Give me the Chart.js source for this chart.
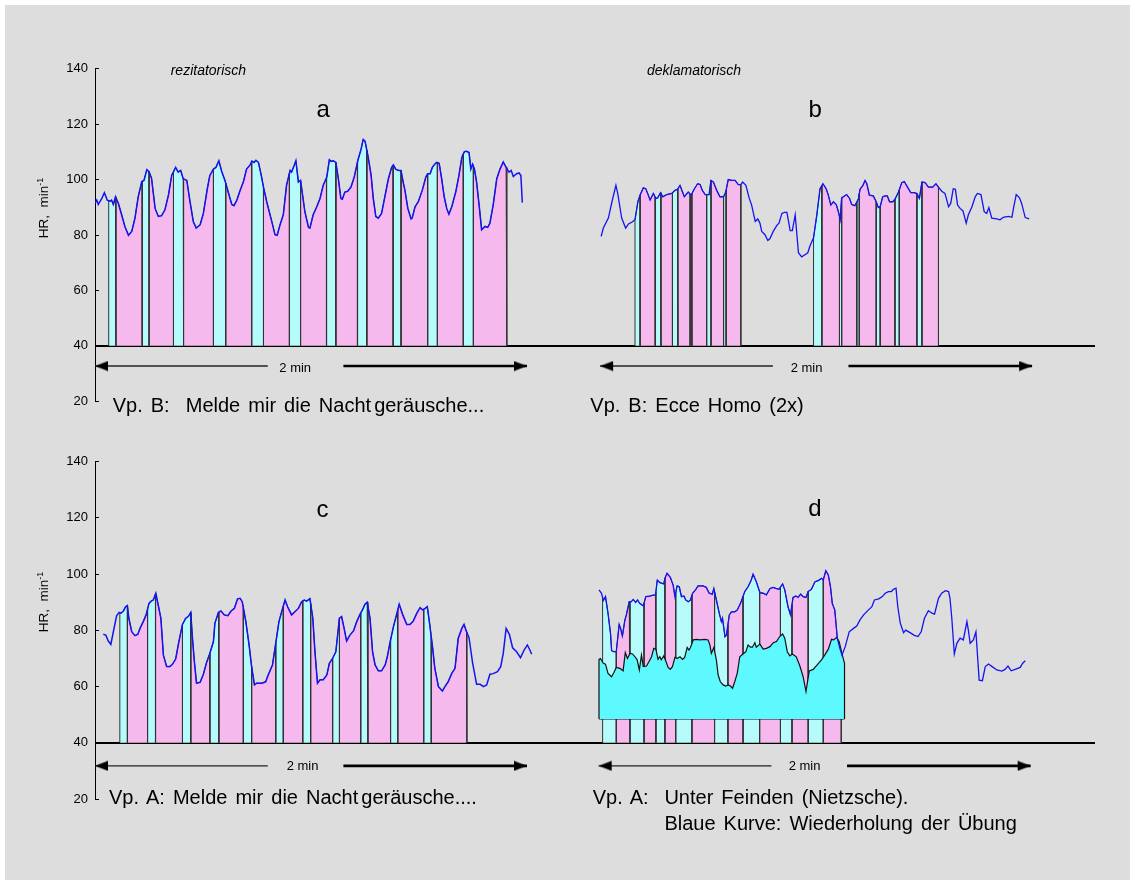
<!DOCTYPE html>
<html><head><meta charset="utf-8">
<script src="https://cdn.jsdelivr.net/npm/chart.js@4/dist/chart.umd.min.js"></script>
<style>
html,body{margin:0;padding:0;background:#fff;}
body{width:1135px;height:886px;position:relative;overflow:hidden;font-family:"Liberation Sans",Arial,Helvetica,sans-serif;}
#frame{position:absolute;left:5px;top:5px;width:1125px;height:875px;background:#dddddd;}
canvas{position:absolute;left:0;}
.t{position:absolute;white-space:nowrap;color:#000;}
</style></head><body>
<div id="frame"></div>
<canvas id="rowTop" width="1135" height="370" style="top:50px"></canvas>
<canvas id="rowBottom" width="1135" height="380" style="top:440px"></canvas>
<div id="labels"></div>
<script>
// ---------------- DATA (time in s from panel start, HR in min^-1) ----------------
const yTicks = [20, 40, 60, 80, 100, 120, 140];
const spanSeconds = 120; // "2 min"

// Panel a: Vp. B, Melde mir die Nachtgeräusche (rezitatorisch)
const panelA_hr = [[0,91.4],[0.5,92.6],[0.9,91.0],[1.9,93.2],[2.6,95.3],[3.4,92.6],[4.2,92.2],[4.6,92.6],[5.1,91.0],[5.7,93.8],[6.5,91.4],[7.4,87.3],[8.3,83.1],[9.3,79.9],[10.2,81.3],[11.1,86.1],[12.0,93.8],[13.0,99.3],[13.6,99.7],[14.4,103.6],[15.0,102.9],[15.7,100.5],[16.7,89.6],[17.6,86.7],[18.5,87.0],[19.4,89.0],[20.4,94.4],[21.3,101.5],[22.4,104.4],[23.1,102.7],[23.8,103.3],[24.5,100.3],[25.5,99.7],[26.4,92.0],[27.3,84.9],[28.1,82.5],[29.2,83.7],[30.1,87.8],[31.2,96.7],[31.9,101.5],[32.9,103.8],[33.6,104.4],[34.4,106.8],[35.2,102.9],[36.1,99.7],[37.0,95.5],[38.0,91.0],[38.6,90.6],[39.4,92.6],[40.3,96.1],[41.2,99.1],[42.1,103.8],[43.1,105.3],[43.6,106.7],[44.2,106.2],[44.7,107.0],[45.4,106.2],[46.1,102.1],[46.8,97.3],[47.7,92.0],[49.1,84.9],[50.0,80.1],[50.6,79.9],[51.4,83.7],[52.3,87.3],[53.2,97.9],[54.2,103.3],[54.6,102.7],[55.3,105.0],[55.8,106.8],[56.5,99.1],[57.1,99.7],[58.3,88.4],[59.3,82.8],[59.7,82.5],[60.6,87.3],[61.6,90.2],[62.5,93.2],[63.4,98.0],[64.4,100.9],[65.1,107.2],[65.6,106.6],[66.2,106.8],[66.9,106.2],[67.6,100.3],[68.3,93.2],[68.7,92.9],[69.4,95.5],[70.2,95.8],[71.1,97.3],[72.0,100.9],[73.0,106.8],[73.9,110.9],[74.5,114.5],[75.0,113.9],[75.9,108.0],[76.7,101.5],[77.3,93.2],[78.0,86.7],[78.7,86.1],[79.6,87.8],[80.6,94.4],[81.5,100.3],[82.4,104.4],[82.9,105.3],[83.5,103.8],[84.3,103.3],[85.0,103.3],[85.6,99.1],[86.1,96.1],[86.9,89.6],[87.8,85.8],[88.1,86.1],[88.9,90.2],[89.8,92.0],[90.9,96.1],[91.9,100.9],[92.4,102.1],[93.1,102.1],[93.7,104.4],[94.4,105.6],[94.9,106.2],[95.6,105.9],[96.3,100.3],[97.0,93.8],[97.7,89.6],[98.3,87.5],[99.1,90.2],[100.2,95.5],[101.1,101.5],[101.9,108.0],[102.6,110.1],[103.2,110.2],[103.9,109.8],[104.4,103.8],[104.9,105.6],[105.4,103.8],[106.0,99.1],[106.7,90.8],[107.4,81.9],[108.3,83.1],[109.1,82.8],[109.7,84.3],[110.6,90.8],[111.6,100.3],[112.5,103.8],[113.4,106.4],[114.2,104.4],[115.0,102.7],[115.6,103.3],[116.2,101.1],[117.1,102.1],[117.8,102.4],[118.3,101.5],[118.7,91.7]];
const panelA_phases = [[3.8,5.8,13.1,15.0,21.8,24.6,32.9,36.3,43.5,46.8,54.0,57.1,64.3,66.9,72.9,75.5,82.8,85.0,92.4,95.1,102.3,105.1,114.4]];

// Panel b: Vp. B, Ecce Homo (2x) (deklamatorisch)
const panelB_hr = [[0.3,79.5],[0.9,82.5],[2.3,86.1],[3.3,92.0],[4.4,97.9],[4.9,95.0],[6.0,86.1],[7.1,82.5],[7.9,84.0],[8.8,84.6],[9.7,85.5],[10.5,92.0],[11.1,94.4],[12.0,97.0],[12.7,96.7],[13.4,94.4],[13.9,92.6],[14.8,95.0],[15.5,93.2],[16.0,93.4],[16.8,95.3],[17.4,93.8],[18.5,94.6],[19.9,95.0],[20.8,96.1],[21.5,96.5],[22.2,97.9],[22.9,95.5],[23.4,93.8],[24.5,95.5],[25.3,94.4],[26.2,96.7],[27.1,98.5],[27.8,98.2],[28.4,96.1],[29.2,94.6],[30.3,94.6],[30.8,99.7],[31.5,99.1],[32.4,96.1],[33.3,93.8],[34.3,93.8],[34.9,95.5],[35.6,100.0],[36.6,99.7],[37.5,99.7],[38.4,98.2],[39.1,98.2],[39.6,99.1],[40.5,97.9],[41.4,93.4],[42.1,90.8],[43.1,84.9],[43.8,85.8],[44.4,84.3],[44.9,81.3],[45.8,80.1],[46.6,78.0],[47.2,78.7],[48.1,81.3],[49.1,83.5],[49.7,84.3],[50.5,87.8],[51.2,88.2],[51.9,88.2],[52.8,81.6],[53.4,81.6],[54.2,87.3],[55.1,73.6],[56.0,72.1],[56.8,72.8],[57.7,73.6],[58.3,76.0],[59.3,79.0],[60.2,87.2],[61.1,96.7],[61.9,98.5],[62.8,96.7],[63.4,94.4],[64.1,90.8],[64.8,92.0],[65.6,91.0],[66.2,88.4],[66.7,85.5],[67.1,93.4],[68.5,94.6],[69.3,93.2],[69.9,91.0],[70.8,90.6],[71.8,93.2],[72.2,96.5],[73.0,97.9],[73.6,99.7],[74.1,98.5],[74.8,94.4],[75.9,94.1],[76.7,92.0],[77.3,89.9],[77.8,90.2],[78.5,93.8],[79.2,94.1],[79.8,94.1],[80.4,92.0],[81.3,92.0],[81.9,92.9],[82.9,95.5],[83.8,98.9],[84.5,99.3],[85.4,97.3],[86.3,95.3],[87.2,95.3],[88.0,95.0],[88.7,93.2],[89.4,99.1],[90.3,98.9],[91.2,97.3],[92.4,97.3],[93.3,98.5],[94.0,97.3],[94.9,95.8],[95.8,95.0],[96.8,90.2],[97.4,91.4],[98.1,96.7],[98.7,96.5],[99.3,90.8],[100.0,89.6],[100.8,88.7],[101.7,84.3],[102.3,87.3],[103.3,90.2],[104.2,93.8],[104.8,95.0],[105.8,94.6],[106.7,88.4],[107.4,87.8],[108.0,89.9],[108.8,86.1],[110.2,85.8],[111.1,85.5],[112.0,86.4],[113.4,86.7],[114.4,86.4],[115.0,90.8],[115.6,94.6],[116.5,93.4],[117.1,91.4],[118.1,86.3],[119.2,85.8]];
const panelB_phases = [[9.7,11.1,15.3,16.9,20.1,21.6,25.0,25.5,29.6,30.8,34.3,35.0,39.1],[59.3,61.6,66.5,67.1,71.3,72.0,76.7,77.8,81.9,83.1,88.0,89.4,94.0]];

// Panel c: Vp. A, Melde mir die Nachtgeräusche
const panelC_hr = [[2.3,78.6],[3.0,78.3],[3.7,76.2],[4.4,75.0],[5.1,79.5],[6.0,85.2],[6.7,86.4],[7.2,86.1],[7.9,86.9],[8.5,88.4],[9.0,88.8],[9.4,84.3],[10.2,79.5],[11.1,78.1],[11.9,78.6],[12.5,80.7],[13.4,83.1],[14.2,85.5],[15.0,89.6],[15.6,90.4],[16.2,90.8],[16.9,93.2],[17.6,88.8],[18.3,84.3],[19.0,71.2],[19.9,67.1],[20.8,67.1],[21.5,67.9],[22.4,69.8],[23.3,76.0],[24.3,82.1],[25.2,84.3],[25.9,84.9],[26.6,86.4],[27.0,78.4],[27.6,68.9],[28.2,61.2],[29.2,61.5],[30.1,64.4],[31.0,68.6],[31.9,71.8],[32.9,76.0],[33.3,82.5],[34.3,86.4],[35.0,86.9],[35.9,85.5],[36.9,85.2],[37.8,86.9],[38.7,87.8],[39.6,91.2],[40.3,91.4],[40.9,90.2],[41.9,83.1],[42.8,74.8],[43.5,67.1],[44.3,60.6],[44.9,61.2],[46.3,61.2],[47.4,61.7],[48.1,64.1],[49.3,67.7],[50.2,75.4],[51.1,83.1],[52.0,87.3],[52.8,90.8],[53.5,88.4],[54.6,85.5],[55.6,86.7],[56.5,87.8],[57.4,90.2],[58.1,90.8],[58.8,90.4],[59.7,91.3],[60.5,84.3],[61.1,72.4],[61.8,61.2],[62.5,62.4],[63.4,62.4],[64.4,64.1],[65.1,68.3],[66.0,70.0],[66.9,72.4],[67.9,84.3],[68.5,84.9],[69.2,80.7],[69.9,76.2],[70.8,78.3],[71.8,79.8],[72.7,83.1],[73.6,85.7],[74.3,87.3],[75.0,89.3],[75.6,90.0],[76.4,84.3],[77.1,72.4],[77.8,67.7],[78.7,65.6],[79.6,65.6],[80.6,67.7],[81.2,70.6],[81.9,75.4],[82.9,81.3],[84.0,86.7],[84.5,89.3],[85.5,85.5],[86.6,82.1],[87.5,82.1],[88.4,83.3],[89.4,86.1],[90.3,88.1],[91.0,87.3],[91.7,87.8],[92.3,88.4],[93.0,81.9],[93.8,73.6],[94.4,66.5],[95.4,60.0],[96.5,58.4],[97.2,60.0],[98.1,61.7],[99.1,64.7],[100.0,66.5],[100.9,77.2],[101.9,80.7],[102.5,82.1],[103.2,79.5],[103.9,77.4],[104.9,68.3],[106.0,60.8],[107.0,60.8],[107.9,60.0],[108.8,60.6],[109.7,64.4],[110.6,64.6],[111.8,65.3],[112.7,67.1],[113.4,71.8],[114.2,80.7],[115.1,78.6],[116.0,73.8],[117.1,72.4],[118.2,70.3],[119.2,73.0],[120.1,74.8],[120.8,73.0],[121.3,71.5]];
const panelC_phases = [[6.9,9.0,14.6,16.8,24.3,26.6,31.9,34.4,41.2,43.5,50.2,52.3,57.7,59.9,66.0,67.9,73.8,75.8,82.1,84.1,91.3,93.4,103.3]];

// Panel d: Vp. A, Unter Feinden (Nietzsche); blue = repetition, black/filled = first run
const panelD_hr = [[0.1,94.4],[0.8,93.2],[1.3,90.6],[1.9,92.0],[2.6,86.1],[3.3,78.9],[3.6,72.8],[4.2,72.4],[4.9,72.4],[5.7,82.1],[6.1,80.7],[6.6,78.0],[7.3,83.7],[7.7,85.5],[8.5,90.2],[9.1,90.2],[9.6,91.0],[10.3,89.9],[10.8,90.8],[11.4,89.6],[12.4,88.7],[13.1,92.0],[14.2,92.2],[15.1,92.5],[15.8,92.6],[16.3,97.9],[17.0,97.0],[18.1,96.5],[18.4,98.5],[19.0,100.3],[19.9,98.9],[20.7,96.1],[21.2,92.0],[21.8,95.8],[22.4,95.5],[23.0,92.0],[23.7,92.2],[24.2,90.8],[24.9,90.2],[25.5,90.8],[26.1,93.2],[27.0,94.6],[27.6,95.8],[29.0,95.8],[29.9,95.3],[30.7,93.2],[31.6,92.9],[32.0,94.9],[32.7,90.8],[33.5,86.1],[34.1,83.1],[34.4,84.3],[35.1,77.7],[35.5,78.3],[36.3,85.5],[36.9,86.6],[37.8,86.6],[38.5,87.2],[39.4,89.6],[40.6,93.8],[41.5,95.5],[42.4,97.9],[42.9,100.0],[43.8,97.3],[44.8,93.4],[45.7,93.2],[46.6,92.6],[47.6,94.9],[48.5,95.3],[49.2,94.9],[50.1,94.6],[51.1,96.5],[51.7,94.4],[52.6,88.4],[53.3,85.5],[54.0,91.7],[54.8,92.2],[55.4,91.7],[56.1,92.9],[56.8,92.0],[57.6,91.7],[58.2,93.8],[59.1,94.6],[60.1,97.3],[61.0,97.7],[61.9,98.5],[62.4,97.9],[63.1,101.2],[63.8,99.7],[64.4,95.5],[64.9,89.6],[65.6,87.2],[66.3,77.2],[67.0,73.6],[67.6,71.2],[68.5,74.2],[69.6,79.5],[70.8,80.7],[71.7,81.5],[72.6,83.7],[73.6,85.5],[74.9,87.2],[75.9,88.4],[76.6,90.8],[77.8,91.2],[78.8,92.0],[79.6,93.2],[80.5,93.8],[81.3,93.8],[81.9,94.6],[82.6,95.0],[83.1,88.4],[83.8,82.5],[84.7,79.2],[85.3,80.1],[86.5,79.2],[87.7,78.2],[88.7,77.8],[89.6,79.5],[90.5,84.3],[91.6,87.0],[92.6,86.1],[93.3,85.8],[94.4,91.4],[95.3,93.2],[96.3,94.1],[97.2,93.8],[97.6,91.4],[98.1,84.3],[98.8,71.6],[99.5,75.4],[100.4,77.2],[101.3,76.6],[102.3,83.1],[102.7,80.1],[103.2,75.4],[104.1,76.6],[104.8,79.5],[105.7,62.3],[106.6,62.1],[107.4,67.1],[108.3,68.0],[109.3,67.1],[110.6,65.9],[112.0,65.5],[112.9,66.1],[113.7,67.3],[114.6,65.6],[115.7,66.1],[117.1,66.8],[117.8,68.3],[118.5,69.2]];
const panelD_first = [[0.1,69.7],[0.5,70.0],[1.3,68.3],[1.9,68.0],[2.6,64.7],[3.6,63.5],[4.2,64.9],[4.9,66.8],[5.9,66.5],[6.8,65.6],[7.4,72.1],[8.0,70.0],[8.7,71.8],[9.4,71.6],[10.1,70.6],[10.7,69.5],[11.3,65.9],[11.9,71.2],[12.4,67.1],[13.3,67.3],[14.0,68.9],[14.7,70.6],[15.3,73.6],[15.9,73.2],[16.5,69.7],[17.0,70.6],[17.4,69.5],[18.1,70.9],[18.7,68.9],[19.3,66.8],[19.9,66.1],[20.5,67.1],[21.2,70.4],[21.8,70.0],[22.6,70.6],[23.3,69.7],[23.9,70.4],[24.6,73.9],[25.1,73.0],[25.5,73.9],[26.3,76.6],[27.2,76.8],[28.1,76.6],[29.5,76.8],[30.4,76.6],[30.9,74.8],[31.3,71.8],[32.0,73.9],[32.7,69.5],[33.2,64.1],[33.8,61.7],[34.6,60.6],[35.3,60.2],[36.0,60.6],[36.6,60.2],[37.2,59.4],[37.8,61.7],[38.5,64.7],[39.2,70.6],[40.1,71.6],[40.9,72.4],[41.5,74.8],[42.2,74.0],[42.7,74.0],[43.4,75.6],[43.8,74.0],[44.8,75.1],[45.7,73.3],[46.6,73.6],[47.6,74.2],[48.5,75.6],[49.4,76.0],[50.3,77.8],[51.1,78.7],[51.7,77.2],[52.4,72.4],[53.1,70.9],[53.8,71.6],[54.9,70.6],[55.9,67.3],[56.8,63.5],[57.6,58.2],[58.5,65.6],[59.6,66.1],[60.7,67.7],[61.9,69.5],[62.8,71.2],[63.8,73.3],[64.7,76.8],[65.3,76.6],[66.1,77.5],[66.8,76.0],[67.7,71.2],[68.3,68.3]];
const panelD_firstBase = 48.5;
const panelD_phases = [[1.1,4.9,8.7,12.6,15.9,18.4,21.4,25.9,32.2,35.9,40.1,44.7,50.5,53.7,58.2,62.4,67.4]];

// ---------------- LAYOUT / STYLE ----------------
const FONT = '"Liberation Sans", Arial, Helvetica, sans-serif';
const X_MAX = 1000 / 3.6;           // row time axis (s)
const OFF = { a: 0, b: 140.3, c: 0, d: 139.9 };
const C = { pink: '#f6b9ee', cyan: '#b5fbfb', dark: '#5ef9fe', hr: '#1414f0', edge: '#333333' };

function makeHead(dir) {
  const c = document.createElement('canvas'); c.width = 28; c.height = 11;
  const g = c.getContext('2d'); g.fillStyle = '#000'; g.beginPath();
  if (dir < 0) { g.moveTo(14, 5.5); g.lineTo(27, 0.5); g.lineTo(27, 10.5); }
  else { g.moveTo(14, 5.5); g.lineTo(1, 0.5); g.lineTo(1, 10.5); }
  g.closePath(); g.fill(); return c;
}
const HEAD_L = makeHead(-1), HEAD_R = makeHead(1);

function interp(pts, t) {
  if (t <= pts[0][0]) return pts[0][1];
  for (let i = 1; i < pts.length; i++) {
    if (t <= pts[i][0]) { const [t0, v0] = pts[i - 1], [t1, v1] = pts[i]; return v0 + (v1 - v0) * (t - t0) / (t1 - t0); }
  }
  return pts[pts.length - 1][1];
}
function areaData(pts, s, e, base, off) {
  const d = [{ x: off + s, y: base }, { x: off + s, y: interp(pts, s) }];
  for (const [t, v] of pts) if (t > s && t < e) d.push({ x: off + t, y: v });
  d.push({ x: off + e, y: interp(pts, e) }, { x: off + e, y: base });
  return d;
}
function phaseSets(pts, groups, off) {
  const out = [];
  groups.forEach(b => {
    for (let i = 0; i < b.length - 1; i++) {
      out.push({ data: areaData(pts, b[i], b[i + 1], 40, off),
        backgroundColor: i % 2 === 0 ? C.cyan : C.pink, borderColor: C.edge, borderWidth: 1,
        fill: { value: 40 }, pointRadius: 0, order: 10 });
    }
  });
  return out;
}
function curveSet(pts, off, color, width, order) {
  return { data: pts.map(([t, v]) => ({ x: off + t, y: v })), borderColor: color, borderWidth: width,
    fill: false, pointRadius: 0, order };
}
function arrowSets(off, y) {
  return [
    { data: [{ x: off, y }, { x: off + 48, y }], borderColor: '#222', borderWidth: 1.3,
      pointRadius: [6, 0], pointStyle: HEAD_L, fill: false, order: 0 },
    { data: [{ x: off + 69, y }, { x: off + spanSeconds, y }], borderColor: '#000', borderWidth: 2.6,
      pointRadius: [0, 6], pointStyle: HEAD_R, fill: false, order: 0 }
  ];
}

function makeChart(id, padTop, padBottom, datasets) {
  return new Chart(document.getElementById(id), {
    type: 'line',
    data: { datasets },
    options: {
      responsive: false, animation: false, devicePixelRatio: 1, events: [],
      layout: { padding: { top: padTop, bottom: padBottom, left: 0, right: 40 } },
      plugins: { legend: { display: false }, tooltip: { enabled: false } },
      elements: { line: { tension: 0 }, point: { radius: 0 } },
      scales: {
        x: { type: 'linear', min: 0, max: X_MAX, display: false },
        y: {
          type: 'linear', min: yTicks[0], max: yTicks[yTicks.length - 1],
          afterFit: s => { s.width = 95; },
          afterBuildTicks: s => { s.ticks = yTicks.map(v => ({ value: v })); },
          ticks: { color: '#000', font: { family: FONT, size: 13 }, padding: 11 },
          grid: {
            color: c => (c.tick && c.tick.value === 40) ? '#000' : 'rgba(0,0,0,0)',
            lineWidth: c => (c.tick && c.tick.value === 40) ? 2 : 1,
            tickColor: '#000', tickWidth: 1, tickLength: -4, drawTicks: true
          },
          border: { display: true, color: '#000', width: 1 }
        }
      }
    }
  });
}

// Top row (a, b)
const topSets = [
  ...phaseSets(panelA_hr, panelA_phases, OFF.a),
  curveSet(panelA_hr, OFF.a, C.hr, 1.5, 1),
  ...arrowSets(OFF.a, 32.7),
  ...phaseSets(panelB_hr, panelB_phases, OFF.b),
  curveSet(panelB_hr, OFF.b, C.hr, 1.3, 1),
  ...arrowSets(OFF.b, 32.7)
];
makeChart('rowTop', 18.3, 14, topSets);

// Bottom row (c, d)
const dFirst = panelD_first, dT0 = dFirst[0][0], dT1 = dFirst[dFirst.length - 1][0];
const bottomSets = [
  ...phaseSets(panelC_hr, panelC_phases, OFF.c),
  curveSet(panelC_hr, OFF.c, C.hr, 1.5, 1),
  ...arrowSets(OFF.c, 31.8),
  ...phaseSets(panelD_hr, panelD_phases, OFF.d),
  { data: areaData(dFirst, dT0, dT1, panelD_firstBase, OFF.d), backgroundColor: C.dark, borderColor: '#111',
    borderWidth: 1.2, fill: { value: panelD_firstBase }, pointRadius: 0, order: 5 },
  { data: [{ x: OFF.d + dT0, y: panelD_firstBase }, { x: OFF.d + dT1, y: panelD_firstBase }],
    borderColor: '#111', borderWidth: 1.2, fill: false, pointRadius: 0, order: 5 },
  curveSet(panelD_hr, OFF.d, C.hr, 1.3, 1),
  ...arrowSets(OFF.d, 31.8)
];
makeChart('rowBottom', 21.7, 21, bottomSets);

// ---------------- TEXT ----------------
const labels = [
  { h: 'rezitatorisch', x: 170.7, b: 75, s: 14, it: true },
  { h: 'deklamatorisch', x: 647, b: 75, s: 14, it: true },
  { h: 'a', x: 323.3, b: 117.3, s: 24, c: true },
  { h: 'b', x: 815.3, b: 117.3, s: 24, c: true },
  { h: 'c', x: 322.5, b: 517.7, s: 24, c: true },
  { h: 'd', x: 815, b: 516.7, s: 24, c: true },
  { h: '2 min', x: 279.3, b: 372.5, s: 13 },
  { h: '2 min', x: 790.7, b: 372.5, s: 13 },
  { h: '2 min', x: 286.7, b: 770, s: 13 },
  { h: '2 min', x: 788.7, b: 770, s: 13 },
  { h: 'Vp. B:&nbsp; Melde mir die Nacht<span style="margin-left:3px">geräusche...</span>', x: 112.7, b: 412.3, s: 20, ws: 2.5 },
  { h: 'Vp. B: Ecce Homo (2x)', x: 590.3, b: 412.3, s: 20, ws: 2.5 },
  { h: 'Vp. A: Melde mir die Nacht<span style="margin-left:3px">geräusche....</span>', x: 109, b: 804, s: 20, ws: 2.5 },
  { h: 'Vp. A:', x: 592.7, b: 804, s: 20, ws: 2.5 },
  { h: 'Unter Feinden (Nietzsche).', x: 664.4, b: 804, s: 20, ws: 2.5 },
  { h: 'Blaue Kurve: Wiederholung der Übung', x: 664.4, b: 830, s: 20, ws: 2.5 }
];
const host = document.getElementById('labels');
labels.forEach(l => {
  const d = document.createElement('div');
  d.className = 't';
  d.innerHTML = l.h;
  d.style.fontFamily = FONT;
  d.style.fontSize = l.s + 'px';
  d.style.lineHeight = l.s + 'px';
  if (l.it) d.style.fontStyle = 'italic';
  if (l.ws) d.style.wordSpacing = l.ws + 'px';
  d.style.top = (l.b - 0.8465 * l.s) + 'px';
  d.style.left = l.x + 'px';
  if (l.c) d.style.transform = 'translateX(-50%)';
  host.appendChild(d);
});
[208, 602].forEach(cy => {
  const d = document.createElement('div');
  d.className = 't';
  d.innerHTML = 'HR,&nbsp; min<sup style="font-size:9px;vertical-align:5px;line-height:0">-1</sup>';
  d.style.fontFamily = FONT; d.style.fontSize = '13.5px'; d.style.lineHeight = '14px';
  d.style.width = '120px'; d.style.textAlign = 'center';
  d.style.left = (44 - 60) + 'px'; d.style.top = (cy - 7) + 'px';
  d.style.transform = 'rotate(-90deg)';
  host.appendChild(d);
});
</script>
</body></html>
